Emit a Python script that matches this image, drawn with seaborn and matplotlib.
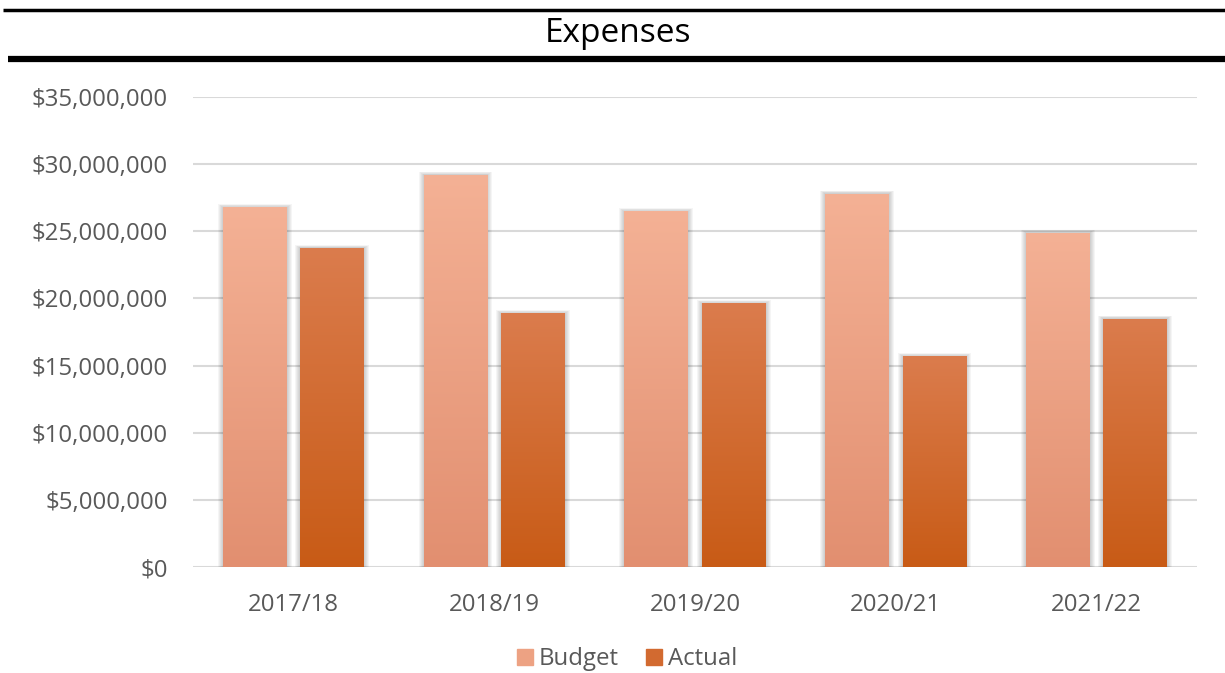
import numpy as np
import pandas as pd
import matplotlib
matplotlib.use('Agg')
import matplotlib.pyplot as plt
import seaborn as sns
from matplotlib.lines import Line2D
from matplotlib.colors import LinearSegmentedColormap
from matplotlib.ticker import FuncFormatter

sns.set_style('white')
plt.rcParams['font.family'] = ['Open Sans', 'DejaVu Sans']

years = ['2017/18', '2018/19', '2019/20', '2020/21', '2021/22']
budget = [26.8e6, 29.2e6, 26.5e6, 27.8e6, 24.9e6]
actual = [23.75e6, 18.9e6, 19.65e6, 15.7e6, 18.5e6]
series = ['Budget', 'Actual']

# gradient colours (top, bottom)
grad = {'Budget': ('#F4B195', '#E28F70'), 'Actual': ('#DB7C4D', '#C85B16')}
mid = {'Budget': '#EDA283', 'Actual': '#D26A30'}

df = pd.DataFrame({
    'Year': years * 2,
    'Amount': budget + actual,
    'Series': ['Budget'] * len(years) + ['Actual'] * len(years),
})

fig = plt.figure(figsize=(12.25, 6.73), dpi=100)
ax = fig.add_axes([193 / 1225, 1 - 567 / 673, (1197 - 193) / 1225, (567 - 97) / 673])

sns.barplot(data=df, x='Year', y='Amount', hue='Series', hue_order=series,
            palette=mid, width=0.77, gap=0.175, ax=ax, legend=False, zorder=3,
            linewidth=0, edgecolor='none')

ax.set_ylim(0, 35e6)
ax.set_xlim(-0.5, 4.5)
ax.set_yticks(np.arange(0, 35e6 + 1, 5e6))
ax.yaxis.set_major_formatter(FuncFormatter(lambda v, p: '${:,.0f}'.format(v)))
ax.grid(axis='y', color='#D9D9D9', lw=1.5, zorder=0)
ax.set_axisbelow(True)
for s in ax.spines.values():
    s.set_visible(False)
ax.tick_params(axis='both', length=0, labelsize=17.3, labelcolor='#595959')
ax.tick_params(axis='y', pad=18)
ax.tick_params(axis='x', pad=19)
ax.set_xlabel('')
ax.set_ylabel('')

# gradient fill + soft shadow for each bar
px_x = 5 / 1004
px_y = 35e6 / 470
n = len(years)
for i, patch in enumerate(ax.patches[:2 * n]):
    name = series[i // n]
    x0, y0 = patch.get_x(), patch.get_y()
    w, h = patch.get_width(), patch.get_height()
    for k in [5, 4, 3, 2, 1]:
        ax.add_patch(plt.Rectangle((x0 - k * px_x, y0), w + 2 * k * px_x, h + k * px_y * 0.6,
                                   color='black', alpha=0.04, lw=0, zorder=2))
    cmap = LinearSegmentedColormap.from_list(name, [grad[name][1], grad[name][0]])
    im = ax.imshow(np.linspace(0, 1, 256).reshape(-1, 1), cmap=cmap, aspect='auto',
                   extent=(x0, x0 + w, y0, y0 + h), origin='lower', zorder=4)
    im.set_clip_path(patch)
ax.set_xlim(-0.5, 4.5)
ax.set_ylim(0, 35e6)

handles = [Line2D([], [], marker='s', ls='', markersize=12, color=mid[s]) for s in series]
fig.legend(handles, series, loc='center', bbox_to_anchor=(625 / 1225, 1 - 659 / 673),
           ncol=2, frameon=False, fontsize=17.3, labelcolor='#595959',
           handletextpad=0.05, columnspacing=1.0, handlelength=1.0)

# title band
fig.add_artist(Line2D([3 / 1225, 1], [1 - 10 / 673] * 2, color='black', lw=2.5,
                      solid_capstyle='butt'))
fig.add_artist(Line2D([8 / 1225, 1], [1 - 59 / 673] * 2, color='black', lw=4.5,
                      solid_capstyle='butt'))
fig.text(618 / 1225, 1 - 33 / 673, 'Expenses', ha='center', va='center',
         fontsize=24, color='black', family=['Open Sans', 'DejaVu Sans'])

fig.savefig('out.png', dpi=100)
